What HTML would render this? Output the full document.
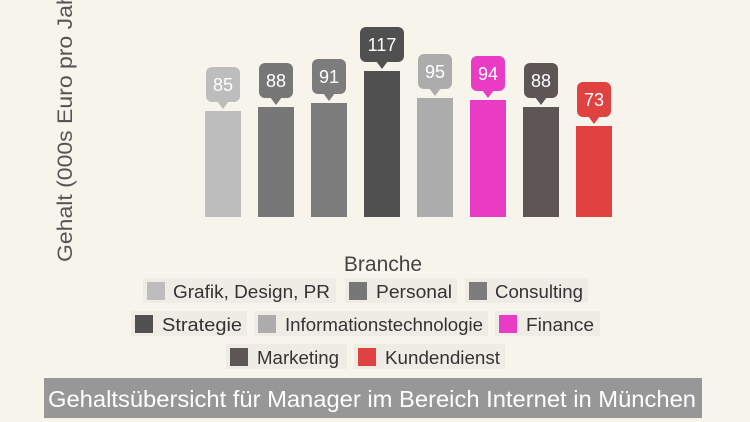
<!DOCTYPE html>
<html><head><meta charset="utf-8"><style>
html,body{margin:0;padding:0;background:#f7f4ec;width:750px;height:422px;overflow:hidden}
svg{display:block}
text{font-family:"Liberation Sans",sans-serif}
</style></head><body>
<svg width="750" height="422" viewBox="0 0 750 422">
<rect width="750" height="422" fill="#f7f4ec"/>
<text transform="translate(72,262) rotate(-90)" font-size="21" fill="#555" textLength="285" lengthAdjust="spacingAndGlyphs">Gehalt (000s Euro pro Jahr)</text>
<g font-size="18" fill="#fff" text-anchor="middle">
<rect x="205" y="111" width="36" height="106" fill="#bdbdbd"/>
<rect x="206" y="67" width="34" height="35" rx="6" fill="#bdbdbd"/><path d="M217 101 L223 109 L229 101Z" fill="#bdbdbd"/><text x="223" y="91">85</text>
<rect x="258" y="107" width="36" height="110" fill="#777"/>
<rect x="259" y="63" width="34" height="35" rx="6" fill="#777"/><path d="M270 97 L276 105 L282 97Z" fill="#777"/><text x="276" y="87">88</text>
<rect x="311" y="103" width="36" height="114" fill="#7c7c7c"/>
<rect x="312" y="59" width="34" height="35" rx="6" fill="#7c7c7c"/><path d="M323 93 L329 101 L335 93Z" fill="#7c7c7c"/><text x="329" y="83">91</text>
<rect x="364" y="71" width="36" height="146" fill="#505050"/>
<rect x="360" y="27" width="44" height="35" rx="6" fill="#505050"/><path d="M376 61 L382 69 L388 61Z" fill="#505050"/><text x="382" y="51">117</text>
<rect x="417" y="98" width="36" height="119" fill="#acacac"/>
<rect x="418" y="54" width="34" height="35" rx="6" fill="#acacac"/><path d="M429 88 L435 96 L441 88Z" fill="#acacac"/><text x="435" y="78">95</text>
<rect x="470" y="100" width="36" height="117" fill="#e93bc4"/>
<rect x="471" y="56" width="34" height="35" rx="6" fill="#e93bc4"/><path d="M482 90 L488 98 L494 90Z" fill="#e93bc4"/><text x="488" y="80">94</text>
<rect x="523" y="107" width="36" height="110" fill="#5e5655"/>
<rect x="524" y="63" width="34" height="35" rx="6" fill="#5e5655"/><path d="M535 97 L541 105 L547 97Z" fill="#5e5655"/><text x="541" y="87">88</text>
<rect x="576" y="126" width="36" height="91" fill="#e04242"/>
<rect x="577" y="82" width="34" height="35" rx="6" fill="#e04242"/><path d="M588 116 L594 124 L600 116Z" fill="#e04242"/><text x="594" y="106">73</text>
</g>
<text x="383" y="271" font-size="21" fill="#444" text-anchor="middle">Branche</text>
<g font-size="18" fill="#333" lengthAdjust="spacingAndGlyphs">
<rect x="143" y="278" width="193" height="25" fill="#efece6"/><rect x="147" y="282" width="18" height="18" fill="#bdbdbd"/><text x="173" y="298" textLength="157" lengthAdjust="spacingAndGlyphs">Grafik, Design, PR</text>
<rect x="345" y="278" width="112" height="25" fill="#efece6"/><rect x="349" y="282" width="18" height="18" fill="#777"/><text x="376" y="298" textLength="76" lengthAdjust="spacingAndGlyphs">Personal</text>
<rect x="465" y="278" width="123" height="25" fill="#efece6"/><rect x="469" y="282" width="18" height="18" fill="#7c7c7c"/><text x="495" y="298" textLength="88" lengthAdjust="spacingAndGlyphs">Consulting</text>
<rect x="131" y="311" width="116" height="25" fill="#efece6"/><rect x="135" y="315" width="18" height="18" fill="#505050"/><text x="162" y="331" textLength="80" lengthAdjust="spacingAndGlyphs">Strategie</text>
<rect x="254" y="311" width="234" height="25" fill="#efece6"/><rect x="258" y="315" width="18" height="18" fill="#acacac"/><text x="285" y="331" textLength="198" lengthAdjust="spacingAndGlyphs">Informationstechnologie</text>
<rect x="495" y="311" width="105" height="25" fill="#efece6"/><rect x="499" y="315" width="18" height="18" fill="#e93bc4"/><text x="526" y="331" textLength="68" lengthAdjust="spacingAndGlyphs">Finance</text>
<rect x="226" y="344" width="121" height="25" fill="#efece6"/><rect x="230" y="348" width="18" height="18" fill="#5e5655"/><text x="257" y="364" textLength="82" lengthAdjust="spacingAndGlyphs">Marketing</text>
<rect x="354" y="344" width="151" height="25" fill="#efece6"/><rect x="358" y="348" width="18" height="18" fill="#e04242"/><text x="385" y="364" textLength="115" lengthAdjust="spacingAndGlyphs">Kundendienst</text>
</g>
<rect x="44" y="378" width="658" height="40" fill="#979797"/>
<text x="48" y="407" font-size="23" fill="#fff" textLength="648" lengthAdjust="spacingAndGlyphs">Gehaltsübersicht für Manager im Bereich Internet in München</text>
</svg>
</body></html>
